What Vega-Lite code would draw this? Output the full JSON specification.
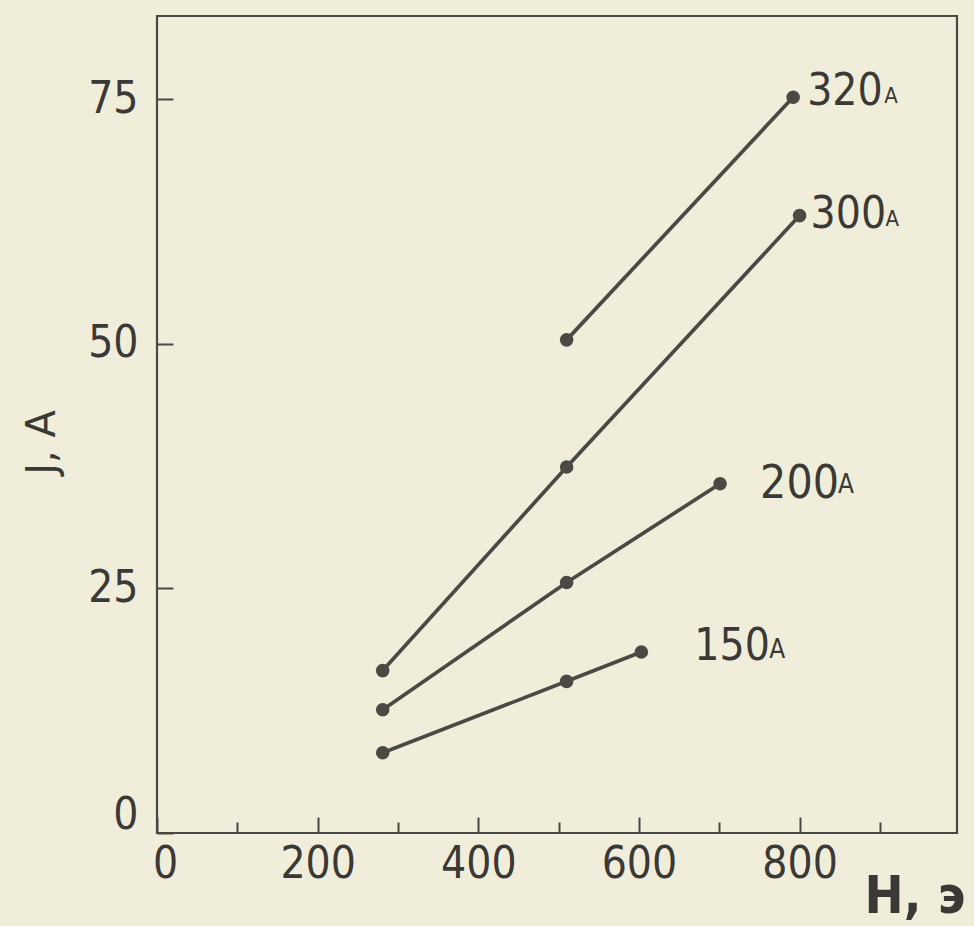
{
  "$schema": "https://vega.github.io/schema/vega-lite/v6.json",
  "width": 800,
  "height": 817,
  "autosize": {"type": "none"},
  "padding": {"left": 157, "top": 16, "right": 17, "bottom": 93},
  "background": "#f0eedb",
  "config": {
    "view": {"stroke": "#4a4843", "strokeWidth": 2.2},
    "font": "DejaVu Sans Condensed, Roboto, sans-serif"
  },
  "data": {
    "values": [
      {"series": "320", "H": 510, "J": 50.4},
      {"series": "320", "H": 792, "J": 75.2},
      {"series": "300", "H": 281, "J": 16.6},
      {"series": "300", "H": 510, "J": 37.4},
      {"series": "300", "H": 800, "J": 63.1},
      {"series": "200", "H": 281, "J": 12.6},
      {"series": "200", "H": 510, "J": 25.6},
      {"series": "200", "H": 701, "J": 35.7},
      {"series": "150", "H": 281, "J": 8.2},
      {"series": "150", "H": 510, "J": 15.5},
      {"series": "150", "H": 603, "J": 18.5}
    ]
  },
  "encoding": {
    "x": {
      "field": "H", "type": "quantitative",
      "scale": {"domain": [0, 996], "nice": false, "zero": false},
      "axis": {
        "title": "H, э",
        "values": [0, 100, 200, 300, 400, 500, 600, 700, 800, 900],
        "labelExpr": "datum.value % 200 == 0 ? datum.label : ''",
        "domain": false, "grid": false, "labelFlush": false,
        "tickSize": {"condition": {"test": "datum.value % 200 == 0", "value": -16}, "value": -11},
        "tickColor": "#4a4843", "tickWidth": 2,
        "labelFont": "DejaVu Sans Condensed, Roboto, sans-serif", "labelFontSize": 44, "labelColor": "#3b3935",
        "labelBaseline": "top", "labelPadding": 25,
        "labelOffset": {"condition": {"test": "datum.value == 0", "value": 8}, "value": 0},
        "titleFont": "DejaVu Sans Condensed, Roboto, sans-serif", "titleFontSize": 52, "titleFontWeight": "bold",
        "titleColor": "#3b3935", "titleX": 808, "titleY": 79,
        "titleAlign": "right", "titleBaseline": "alphabetic"
      }
    },
    "y": {
      "field": "J", "type": "quantitative",
      "scale": {"domain": [0, 83.5], "nice": false, "zero": false},
      "axis": {
        "title": "J, A",
        "values": [0, 25, 50, 75],
        "domain": false, "grid": false, "labelFlush": false,
        "tickSize": -16, "tickColor": "#4a4843", "tickWidth": 2,
        "labelFont": "DejaVu Sans Condensed, Roboto, sans-serif", "labelFontSize": 44, "labelColor": "#3b3935",
        "labelPadding": 35,
        "labelOffset": {"condition": {"test": "datum.value == 0", "value": -18}, "value": 0},
        "titleFont": "DejaVu Sans, sans-serif", "titleFontSize": 40, "titleFontWeight": "normal",
        "titleColor": "#3b3935", "titleX": -103, "titleY": 426,
        "titleAlign": "center", "titleBaseline": "alphabetic", "titleAngle": -90
      }
    }
  },
  "layer": [
    {
      "mark": {"type": "line", "color": "#4b4944", "strokeWidth": 3.7},
      "encoding": {"detail": {"field": "series"}}
    },
    {
      "mark": {"type": "circle", "color": "#4b4944", "opacity": 1, "size": 185}
    },
    {
      "transform": [{"filter": "datum.series == '320' && datum.H == 792"}],
      "mark": {"type": "text", "align": "left", "baseline": "alphabetic", "dx": 14, "dy": 8, "fontSize": 44, "color": "#3b3935"},
      "encoding": {"text": {"field": "series"}}
    },
    {
      "transform": [{"filter": "datum.series == '320' && datum.H == 792"}],
      "mark": {"type": "text", "text": "А", "align": "left", "baseline": "alphabetic", "dx": 91, "dy": 6, "fontSize": 22, "color": "#3b3935"}
    },
    {
      "transform": [{"filter": "datum.series == '300' && datum.H == 800"}],
      "mark": {"type": "text", "align": "left", "baseline": "alphabetic", "dx": 11, "dy": 12, "fontSize": 44, "color": "#3b3935"},
      "encoding": {"text": {"field": "series"}}
    },
    {
      "transform": [{"filter": "datum.series == '300' && datum.H == 800"}],
      "mark": {"type": "text", "text": "А", "align": "left", "baseline": "alphabetic", "dx": 86, "dy": 10, "fontSize": 22, "color": "#3b3935"}
    },
    {
      "transform": [{"filter": "datum.series == '200' && datum.H == 701"}],
      "mark": {"type": "text", "align": "left", "baseline": "alphabetic", "dx": 40, "dy": 14, "fontSize": 46, "color": "#3b3935"},
      "encoding": {"text": {"field": "series"}}
    },
    {
      "transform": [{"filter": "datum.series == '200' && datum.H == 701"}],
      "mark": {"type": "text", "text": "А", "align": "left", "baseline": "alphabetic", "dx": 118, "dy": 9, "fontSize": 26, "color": "#3b3935"}
    },
    {
      "transform": [{"filter": "datum.series == '150' && datum.H == 603"}],
      "mark": {"type": "text", "align": "left", "baseline": "alphabetic", "dx": 53, "dy": 8, "fontSize": 44, "color": "#3b3935"},
      "encoding": {"text": {"field": "series"}}
    },
    {
      "transform": [{"filter": "datum.series == '150' && datum.H == 603"}],
      "mark": {"type": "text", "text": "А", "align": "left", "baseline": "alphabetic", "dx": 128, "dy": 6, "fontSize": 26, "color": "#3b3935"}
    }
  ]
}
